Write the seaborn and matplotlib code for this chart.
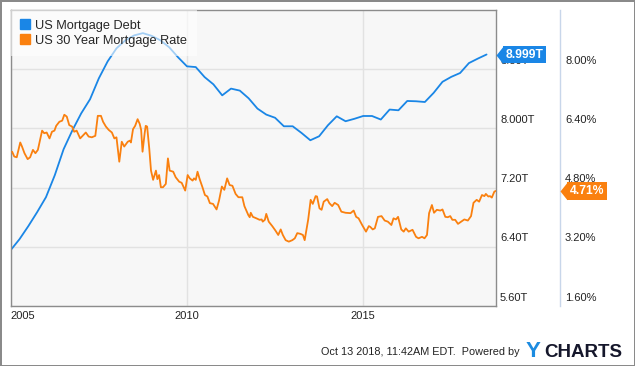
import numpy as np
import seaborn as sns
import matplotlib.pyplot as plt
from matplotlib.lines import Line2D
from matplotlib.transforms import ScaledTranslation, blended_transform_factory

sns.set_style('white')
plt.rcParams['font.family'] = ['Liberation Sans', 'DejaVu Sans']

blue = '#1a86e6'
orange = '#fa800f'

# US mortgage debt, trillions, quarter ends from 2005 to mid 2018
debt_years = np.arange(2005, 2018.51, 0.25)
debt_vals = [6.356, 6.504, 6.680, 6.869, 7.071, 7.368, 7.719, 7.975, 8.204, 8.394,
             8.677, 8.906, 9.082, 9.190, 9.257, 9.288, 9.251, 9.190, 9.095, 8.960,
             8.839, 8.829, 8.694, 8.596, 8.447, 8.538, 8.511, 8.407, 8.268, 8.187,
             8.144, 8.029, 8.029, 7.939, 7.840, 7.894, 8.043, 8.164, 8.097, 8.130,
             8.168, 8.168, 8.120, 8.255, 8.245, 8.371, 8.367, 8.357, 8.481, 8.630,
             8.697, 8.749, 8.883, 8.943, 8.999]

# US 30 year mortgage rate, percent
rate_years = [2005.04, 2005.10, 2005.17, 2005.27, 2005.32, 2005.39, 2005.48, 2005.55, 2005.63, 2005.70,
              2005.77, 2005.89, 2005.95, 2006.02, 2006.10, 2006.17, 2006.24, 2006.29, 2006.38, 2006.46,
              2006.52, 2006.59, 2006.66, 2006.74, 2006.80, 2006.87, 2006.97, 2007.04, 2007.13, 2007.21,
              2007.30, 2007.40, 2007.47, 2007.56, 2007.62, 2007.70, 2007.78, 2007.87, 2007.94, 2008.00,
              2008.08, 2008.15, 2008.22, 2008.32, 2008.38, 2008.41, 2008.47, 2008.53, 2008.60, 2008.66,
              2008.70, 2008.74, 2008.80, 2008.83, 2008.87, 2008.93, 2008.98, 2009.04, 2009.12, 2009.16,
              2009.21, 2009.26, 2009.32, 2009.40, 2009.46, 2009.51, 2009.61, 2009.68, 2009.78, 2009.85,
              2009.95, 2010.02, 2010.08, 2010.16, 2010.20, 2010.25, 2010.30, 2010.36, 2010.44, 2010.51,
              2010.58, 2010.65, 2010.74, 2010.84, 2010.91, 2010.99, 2011.06, 2011.14, 2011.21, 2011.29,
              2011.38, 2011.46, 2011.57, 2011.63, 2011.71, 2011.74, 2011.78, 2011.81, 2011.87, 2011.97,
              2012.06, 2012.12, 2012.15, 2012.21, 2012.25, 2012.32, 2012.42, 2012.51, 2012.59, 2012.66,
              2012.72, 2012.80, 2012.89, 2012.99, 2013.06, 2013.13, 2013.22, 2013.29, 2013.34, 2013.44,
              2013.51, 2013.57, 2013.65, 2013.69, 2013.76, 2013.82, 2013.88, 2013.98, 2014.04, 2014.12,
              2014.19, 2014.29, 2014.38, 2014.50, 2014.64, 2014.73, 2014.80, 2014.87, 2014.97, 2015.08,
              2015.16, 2015.20, 2015.27, 2015.33, 2015.42, 2015.52, 2015.61, 2015.70, 2015.80, 2015.86,
              2015.93, 2015.99, 2016.08, 2016.15, 2016.21, 2016.29, 2016.40, 2016.50, 2016.57, 2016.67,
              2016.74, 2016.81, 2016.87, 2016.95, 2017.01, 2017.09, 2017.19, 2017.25, 2017.33, 2017.40,
              2017.47, 2017.53, 2017.61, 2017.69, 2017.78, 2017.87, 2017.97, 2018.06, 2018.13, 2018.22,
              2018.29, 2018.37, 2018.44, 2018.48, 2018.55, 2018.60, 2018.65, 2018.72, 2018.76]
rate_vals = [5.77, 5.64, 5.62, 6.02, 5.91, 5.73, 5.57, 5.62, 5.82, 5.73,
             5.82, 6.34, 6.27, 6.29, 6.13, 6.31, 6.34, 6.47, 6.58, 6.61,
             6.77, 6.72, 6.49, 6.45, 6.31, 6.34, 6.13, 6.20, 6.29, 6.18,
             6.16, 6.20, 6.74, 6.74, 6.58, 6.45, 6.36, 6.29, 6.13, 6.16,
             5.50, 6.04, 5.91, 6.04, 6.07, 6.02, 6.38, 6.47, 6.65, 6.52,
             6.36, 5.77, 6.27, 6.47, 6.45, 5.86, 5.26, 5.01, 5.26, 5.03,
             5.14, 4.81, 4.81, 4.90, 5.59, 5.26, 5.23, 5.08, 4.96, 4.93,
             4.72, 5.14, 5.05, 4.99, 5.05, 5.01, 5.23, 5.03, 4.81, 4.60,
             4.56, 4.38, 4.36, 4.21, 4.45, 4.83, 4.74, 5.05, 4.87, 4.85,
             4.63, 4.54, 4.54, 4.30, 4.12, 4.06, 4.00, 4.12, 4.01, 3.97,
             3.93, 3.94, 3.88, 3.93, 4.09, 3.88, 3.76, 3.64, 3.52, 3.67,
             3.52, 3.38, 3.34, 3.38, 3.43, 3.57, 3.55, 3.52, 3.38, 3.94,
             4.47, 4.36, 4.57, 4.56, 4.24, 4.20, 4.42, 4.49, 4.38, 4.30,
             4.39, 4.33, 4.15, 4.12, 4.11, 4.18, 4.01, 3.97, 3.79, 3.61,
             3.76, 3.74, 3.67, 3.70, 4.01, 4.03, 3.91, 3.88, 3.79, 3.97,
             3.94, 4.01, 3.67, 3.61, 3.70, 3.61, 3.66, 3.47, 3.43, 3.47,
             3.43, 3.52, 4.11, 4.33, 4.12, 4.20, 4.18, 4.21, 4.01, 4.00,
             4.03, 3.93, 3.93, 3.82, 3.88, 3.94, 3.91, 4.03, 4.39, 4.47,
             4.42, 4.60, 4.57, 4.63, 4.56, 4.57, 4.53, 4.69, 4.71]

debt_ticks = [5.6, 6.4, 7.2, 8.0, 8.8]
debt_tick_labels = ['5.60T', '6.40T', '7.20T', '8.000T', '8.80T']
rate_ticks = [1.6, 3.2, 4.8, 6.4, 8.0]
rate_tick_labels = ['1.60%', '3.20%', '4.80%', '6.40%', '8.00%']
year_ticks = [2005, 2010, 2015]

fig = plt.figure(figsize=(6.35, 3.66), dpi=100)
fig.patch.set_edgecolor('#8a8a8a')
fig.patch.set_linewidth(2)
ax = fig.add_axes([0.0169, 0.1639, 0.7643, 0.8087])
ax.set_facecolor('#f7f7f7')
ax2 = ax.twinx()

sns.lineplot(x=debt_years, y=debt_vals, ax=ax, color=blue, linewidth=1.3, sort=False, estimator=None)
sns.lineplot(x=rate_years, y=rate_vals, ax=ax2, color=orange, linewidth=1.3, sort=False, estimator=None)

ax.set_xlim(2005.0, 2018.77)
ax.set_ylim(5.6, 9.6)
ax2.set_ylim(1.6, 9.6)
ax.set_xticks(year_ticks, [str(y) for y in year_ticks])
ax.get_xticklabels()[0].set_ha('left')
ax.set_yticks(debt_ticks, debt_tick_labels)
ax2.set_yticks(rate_ticks, rate_tick_labels)

ax.yaxis.tick_right()
ax.grid(True, color='#e2e2e2', linewidth=1)
ax2.grid(False)
ax.tick_params(axis='both', length=0, labelsize=8, colors='#222222')
ax.tick_params(axis='x', pad=3.6)
ax.tick_params(axis='y', pad=2.9)
ax2.tick_params(axis='y', length=0, labelsize=8, colors='#222222', pad=3.6)

for s in ax.spines.values():
    s.set_color('#8c8c8c')
    s.set_linewidth(1)
for name in ['top', 'left', 'bottom']:
    ax2.spines[name].set_visible(False)
ax2.spines['right'].set_position(('outward', 46.08))
ax2.spines['right'].set_color('#c8d6ea')
ax2.spines['right'].set_linewidth(1)

# tick labels sit a little above their grid lines
lift = ScaledTranslation(0, 0.095, fig.dpi_scale_trans)
for t in ax.yaxis.get_major_ticks():
    t.label2.set_transform(t.label2.get_transform() + lift)
for t in ax2.yaxis.get_major_ticks():
    t.label2.set_transform(t.label2.get_transform() + lift)

for a in (ax, ax2):
    a.set_xlabel('')
    a.set_ylabel('')


def tag(axis, value, label, color, dx):
    base = blended_transform_factory(axis.transAxes, axis.transData)
    shift = ScaledTranslation(dx / 100, 0, fig.dpi_scale_trans)
    axis.plot([1], [value], transform=base + shift, marker=[(0, 0), (0.8, -1), (0.8, 1), (0, 0)],
              ms=12.7, mew=0, color=color, clip_on=False, zorder=6)
    axis.annotate(label, xy=(1, value), xycoords=base, xytext=((dx + 9.5) * 0.72, 0),
                  textcoords='offset points', ha='left', va='center', color='white',
                  fontsize=8.7, fontweight='bold', zorder=6, annotation_clip=False,
                  bbox=dict(boxstyle='square,pad=0.22', fc=color, ec='none'))


tag(ax, debt_vals[-1], '8.999T', blue, 0)
tag(ax2, rate_vals[-1], '4.71%', orange, 64)

handles = [Line2D([], [], marker='s', ls='', color=blue, markersize=6.5),
           Line2D([], [], marker='s', ls='', color=orange, markersize=6.5)]
leg = ax.legend(handles, ['US Mortgage Debt', 'US 30 Year Mortgage Rate'], loc='upper left',
                bbox_to_anchor=(0, 1), borderaxespad=0, fontsize=9.2, frameon=True, fancybox=False,
                handlelength=0.75, handletextpad=0.4, borderpad=0.75, labelspacing=0.25)
leg.get_frame().set_facecolor('white')
leg.get_frame().set_alpha(0.6)
leg.get_frame().set_edgecolor('none')
leg.set_zorder(10)

fig.text(520 / 635, 1 - 352 / 366, 'Oct 13 2018, 11:42AM EDT.  Powered by', ha='right', va='center',
         fontsize=7.8, color='#222222')
fig.text(526 / 635, 1 - 357 / 366, 'Y', ha='left', va='baseline', fontsize=16, fontweight='bold',
         color='#1c8be0')
fig.text(544 / 635, 1 - 357 / 366, 'CHARTS', ha='left', va='baseline', fontsize=13.5,
         fontweight='bold', color='#15172b')

fig.savefig('out.png', dpi=100)
